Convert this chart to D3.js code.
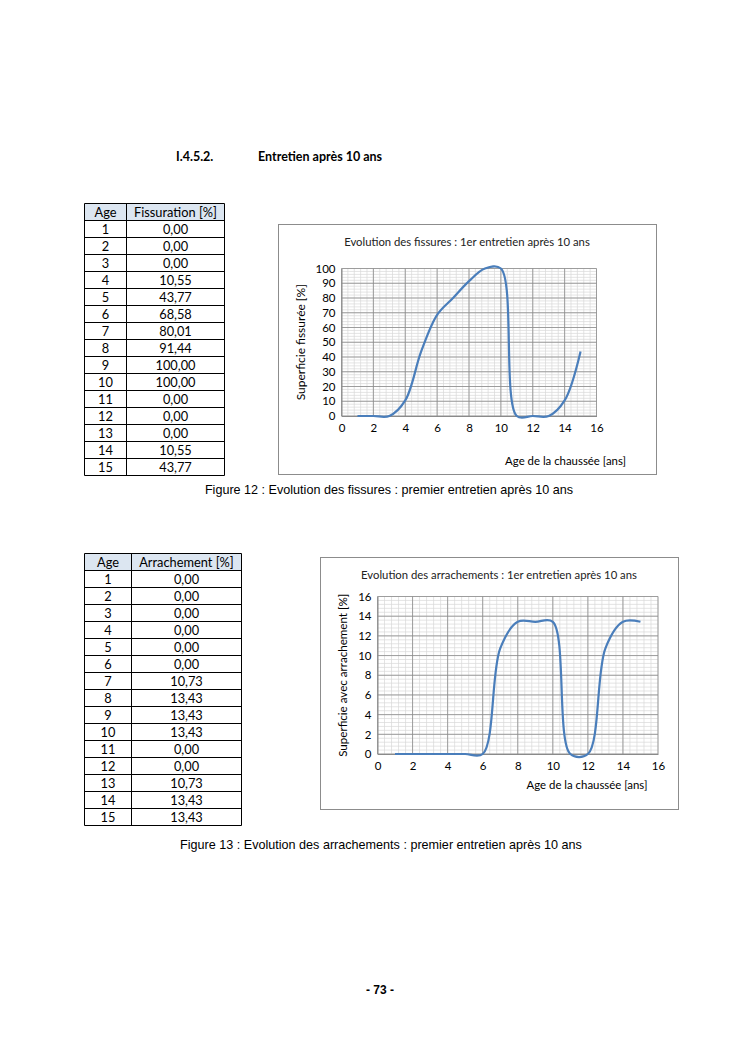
<!DOCTYPE html>
<html><head><meta charset="utf-8">
<script src="https://cdn.jsdelivr.net/npm/d3@7"></script>
<style>body{margin:0;background:#fff}svg{display:block}</style>
</head><body>
<svg id="page" width="744" height="1053"></svg>
<script>
const ages = [1,2,3,4,5,6,7,8,9,10,11,12,13,14,15];
const fissuration = [0,0,0,10.55,43.77,68.58,80.01,91.44,100,100,0,0,0,10.55,43.77];
const arrachement = [0,0,0,0,0,0,10.73,13.43,13.43,13.43,0,0,10.73,13.43,13.43];
const xTicks = [0,2,4,6,8,10,12,14,16];
const yTicks1 = [0,10,20,30,40,50,60,70,80,90,100];
const yTicks2 = [0,2,4,6,8,10,12,14,16];

const svg = d3.select("#page");
const calibri = "Lato, 'Open Sans', sans-serif";
const arial = "'Liberation Sans', Arial, sans-serif";
const fmt = v => v.toFixed(2).replace(".", ",");

// Section heading
svg.append("text").attr("x",176).attr("y",161).attr("font-family",calibri).attr("font-weight","bold").attr("font-size",12.5).text("I.4.5.2.");
svg.append("text").attr("x",258).attr("y",161).attr("font-family",calibri).attr("font-weight","bold").attr("font-size",12.5).text("Entretien après 10 ans");

function drawTable(x0, y0, colW, header, values){
  const g = svg.append("g");
  const rowH = 17.0;
  const totalW = colW[0]+colW[1];
  g.append("rect").attr("x",x0).attr("y",y0).attr("width",totalW).attr("height",rowH).attr("fill","#dce6f1");
  const n = values.length;
  for(let i=0;i<=n+1;i++){
    g.append("line").attr("x1",x0).attr("x2",x0+totalW).attr("y1",y0+i*rowH).attr("y2",y0+i*rowH).attr("stroke","#000").attr("stroke-width",1);
  }
  [0,colW[0],totalW].forEach(dx=>{
    g.append("line").attr("x1",x0+dx).attr("x2",x0+dx).attr("y1",y0).attr("y2",y0+(n+1)*rowH).attr("stroke","#000").attr("stroke-width",1);
  });
  const c1 = x0+colW[0]/2, c2 = x0+colW[0]+colW[1]/2;
  const t = (x,y,s)=>g.append("text").attr("x",x).attr("y",y).attr("text-anchor","middle").attr("font-family",calibri).attr("font-size",12.8).text(s);
  t(c1,y0+rowH-3.5,header[0]); t(c2,y0+rowH-3.5,header[1]);
  values.forEach((v,i)=>{
    t(c1,y0+(i+2)*rowH-3.5,ages[i]);
    t(c2,y0+(i+2)*rowH-3.5,fmt(v));
  });
}
drawTable(84.5,203.5,[42,98],["Age","Fissuration [%]"],fissuration);
drawTable(84.5,553.5,[47,110],["Age","Arrachement [%]"],arrachement);

function drawChart(o){
  const g = svg.append("g");
  g.append("rect").attr("x",o.box[0]).attr("y",o.box[1]).attr("width",o.box[2]).attr("height",o.box[3]).attr("fill","#fff").attr("stroke","#8c8c8c").attr("stroke-width",1);
  const x = d3.scaleLinear().domain([0,16]).range([o.px0,o.px1]);
  const y = d3.scaleLinear().domain([0,o.ymax]).range([o.py0,o.py1]);
  const xMinor = d3.range(0,16.001,0.4);
  const yMinor = d3.range(0,o.ymax+0.001,o.yminor);
  g.selectAll(".vx").data(xMinor).join("line").attr("x1",d=>x(d)).attr("x2",d=>x(d)).attr("y1",y(0)).attr("y2",y(o.ymax)).attr("stroke","#d9d9d9").attr("stroke-width",0.7);
  g.selectAll(".hy").data(yMinor).join("line").attr("x1",x(0)).attr("x2",x(16)).attr("y1",d=>y(d)).attr("y2",d=>y(d)).attr("stroke","#d9d9d9").attr("stroke-width",0.7);
  g.selectAll(".vxM").data(xTicks).join("line").attr("x1",d=>x(d)).attr("x2",d=>x(d)).attr("y1",y(0)).attr("y2",y(o.ymax)).attr("stroke","#8a8a8a").attr("stroke-width",0.8);
  g.selectAll(".hyM").data(o.yTicks).join("line").attr("x1",x(0)).attr("x2",x(16)).attr("y1",d=>y(d)).attr("y2",d=>y(d)).attr("stroke","#8a8a8a").attr("stroke-width",0.8);
  const xa = g.append("g").attr("transform",`translate(0,${y(0)})`).call(d3.axisBottom(x).tickValues(xTicks).tickSize(0).tickPadding(8));
  const ya = g.append("g").attr("transform",`translate(${x(0)},0)`).call(d3.axisLeft(y).tickValues(o.yTicks).tickSize(0).tickPadding(6));
  [xa,ya].forEach(a=>{a.select(".domain").attr("stroke","#8a8a8a");a.selectAll("text").attr("font-family",calibri).attr("font-size",11.5).attr("fill","#000");});
  const line = d3.line().x((d,i)=>x(ages[i])).y(d=>y(d)).curve(d3.curveCatmullRom.alpha(0.5));
  g.append("path").datum(o.values).attr("d",line).attr("fill","none").attr("stroke","#4a7ebb").attr("stroke-width",2.2);
  g.append("text").attr("x",o.titleX).attr("y",o.titleY).attr("text-anchor","middle").attr("font-family",calibri).attr("font-size",11.3).attr("fill","#222").text(o.title);
  g.append("text").attr("transform",`translate(${o.ylabX},${(y(0)+y(o.ymax))/2}) rotate(-90)`).attr("text-anchor","middle").attr("font-family",calibri).attr("font-size",o.ylabSize).attr("fill","#000").text(o.ylab);
  g.append("text").attr("x",o.xlabX).attr("y",o.xlabY).attr("text-anchor",o.xlabAnchor).attr("font-family",calibri).attr("font-size",11.4).attr("fill","#000").text(o.xlab);
}

drawChart({id:1,box:[278.5,224.5,378,250],px0:341.5,px1:596.5,py0:416,py1:268.5,ymax:100,yminor:2,yTicks:yTicks1,values:fissuration,
  title:"Evolution des fissures : 1er entretien après 10 ans",titleX:467,titleY:246,
  ylab:"Superficie fissurée [%]",ylabSize:12,ylabX:305,xlab:"Age de la chaussée [ans]",xlabX:626,xlabY:465,xlabAnchor:"end"});
drawChart({id:2,box:[320.5,557.5,358,252],px0:377.5,px1:658,py0:754,py1:596.5,ymax:16,yminor:0.4,yTicks:yTicks2,values:arrachement,
  title:"Evolution des arrachements : 1er entretien après 10 ans",titleX:499,titleY:579,
  ylab:"Superficie avec arrachement [%]",ylabSize:11.6,ylabX:347,xlab:"Age de la chaussée  [ans]",xlabX:587,xlabY:789,xlabAnchor:"middle"});

svg.append("text").attr("x",389).attr("y",494).attr("text-anchor","middle").attr("font-family",arial).attr("font-size",12.6).text("Figure 12 : Evolution des fissures : premier entretien après 10 ans");
svg.append("text").attr("x",381).attr("y",849).attr("text-anchor","middle").attr("font-family",arial).attr("font-size",12.6).text("Figure 13 : Evolution des arrachements : premier entretien après 10 ans");
svg.append("text").attr("x",380).attr("y",994).attr("text-anchor","middle").attr("font-family",arial).attr("font-size",12).attr("font-weight","bold").text("- 73 -");
</script>
</body></html>
